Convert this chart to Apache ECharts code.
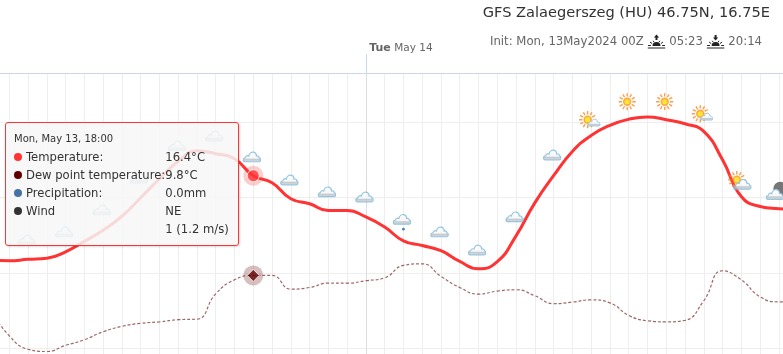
<!DOCTYPE html>
<html>
<head>
<meta charset="utf-8">
<style>
  html, body { margin: 0; padding: 0; background: #fff; width: 783px; height: 354px; overflow: hidden; }
  /* the axis starts and ends off screen, so the chart is wider and taller than the window */
  #chart { position: absolute; left: -10px; top: 0; width: 808px; height: 424px; }
  .tip { font-family: "DejaVu Sans", sans-serif; font-size: 11.6px; color: #333; line-height: 18px; }
  .tip .when { font-size: 10px; }
  .tip i { display: inline-block; width: 8px; height: 8px; border-radius: 50%; margin: 0 4px 0 0; }
  .tip td { padding: 0; white-space: nowrap; }
</style>
</head>
<body>
<div id="chart"></div>
<script src="https://cdn.jsdelivr.net/npm/echarts@6/dist/echarts.min.js"></script>
<script>
// hours counted from Mon May 13 00:00
const hours = [4,5,6,7,8,9,10,11,12,13,14,15,16,17,18,19,20,21,22,23,24,25,26,27,28,29,30,31,32,33,34,35,36,37,38,39,40,41,42,43,44,45,46,47];
const temperature = [10.87,10.80,10.90,10.97,11.40,12.09,12.83,13.76,14.99,16.25,17.41,18.11,17.91,17.58,16.45,15.98,14.92,14.59,14.14,14.14,13.71,13.04,12.13,11.82,11.47,10.76,10.27,10.74,12.46,14.65,16.45,18.06,19.12,19.80,20.20,20.35,20.17,19.90,19.39,17.51,15.07,14.41,14.26,14.20];
const dewPoint = [7.55,5.82,4.93,4.78,5.19,5.56,6.09,6.45,6.65,6.75,6.89,6.93,8.61,9.54,9.83,9.83,8.92,9.03,9.32,9.32,9.48,9.67,10.50,10.60,9.77,9.03,8.59,8.79,8.88,8.48,7.95,8.06,8.21,8.01,7.18,6.82,6.75,6.85,8.15,10.14,9.54,8.41,8.08,8.08];

// weather symbols, every two hours, placed at the height
const iconHours = [6,8,10,12,14,16,18,20,22,24,26,28,30,32,34,36,38,40,42,44,46];
const iconLevels = [12.20,12.73,14.19,16.31,18.44,19.10,17.71,16.18,15.39,15.05,13.33,12.73,11.53,13.73,17.84,20.17,21.36,21.36,20.56,16.12,15.45];
const iconKinds = ['cloud','cloud','cloud','cloud','cloud','cloud','cloud','cloud','cloud','cloud','rain','cloud','cloud','cloud','cloud','suncloud','sun','sun','suncloud','sunbigcloud','night'];

const currentHour = 18;
const dayHour = 24;
const yTicks = 5;

const tipTime = 'Mon, May 13, 18:00';
const tipNames = ['Temperature:', 'Dew point temperature:', 'Precipitation:', 'Wind', ''];
const tipValues = ['16.4°C', '9.8°C', '0.0mm', 'NE', '1 (1.2 m/s)'];
const tipColors = ['#ff3333', '#600000', '#4572a7', '#333333', ''];

function svgUri(w, h, body) {
  return 'data:image/svg+xml;utf8,' + encodeURIComponent(
    '<svg xmlns="http://www.w3.org/2000/svg" width="' + w + '" height="' + h + '" viewBox="0 0 ' + w + ' ' + h + '">' + body + '</svg>');
}

const cloudPath = 'M2.5 11.5 C0.3 11.5 0.2 7.6 3 7.5 C3.4 5.5 5.4 5 6.4 5.8 C7 3 9.2 1.5 11.2 1.9 C13.2 2.3 14.2 4 14.2 5.8 C15.6 5.4 16.8 6.2 17 7.6 C18.8 7.8 18.8 11.5 16.6 11.5 Z';
const cloud = '<defs><linearGradient id="c" x1="0" y1="0" x2="0" y2="1"><stop offset="0" stop-color="#ffffff"/><stop offset="0.62" stop-color="#f4f6f7"/><stop offset="0.75" stop-color="#b9bec0"/><stop offset="1" stop-color="#d0d5d8"/></linearGradient></defs>'
  + '<path d="' + cloudPath + '" fill="url(#c)" stroke="#7db8d8" stroke-width="1.2"/>';

function sunBody(cx, cy, r) {
  let rays = '';
  for (let a = 0; a < 360; a += 30) {
    rays += '<line x1="' + cx + '" y1="' + (cy - r - 1) + '" x2="' + cx + '" y2="' + (cy - r - 4.4) + '" transform="rotate(' + a + ' ' + cx + ' ' + cy + ')" stroke="#ff8420" stroke-width="1.4"/>';
  }
  return rays + '<circle cx="' + cx + '" cy="' + cy + '" r="' + r + '" fill="#ff9410"/><circle cx="' + cx + '" cy="' + cy + '" r="' + (r - 1.6) + '" fill="#ffe000"/>';
}

const iconImages = {
  cloud: 'image://' + svgUri(19, 13, cloud),
  rain: 'image://' + svgUri(19, 20, cloud + '<circle cx="11" cy="16.5" r="1.4" fill="#1f6aa0"/>'),
  sun: 'image://' + svgUri(18, 18, sunBody(9, 9, 4.2)),
  suncloud: 'image://' + svgUri(22, 18, sunBody(9, 9, 4.2) + '<g transform="translate(8.5 7) scale(0.72)">' + cloud + '</g>'),
  sunbigcloud: 'image://' + svgUri(24, 20, sunBody(9, 9, 4.2) + '<g transform="translate(5 7)">' + cloud + '</g>'),
  night: 'image://' + svgUri(24, 20, '<circle cx="15" cy="8" r="7" fill="#555"/><g transform="translate(0 7)">' + cloud + '</g>')
};
const iconSizes = { cloud: [19, 13], rain: [19, 20], sun: [18, 18], suncloud: [22, 18], sunbigcloud: [24, 20], night: [24, 20] };

function sunMark(up) {
  let arrow = up
    ? '<path d="M9 0.5 L11.6 3.6 L10 3.6 L10 6 L8 6 L8 3.6 L6.4 3.6 Z" fill="#222"/>'
    : '<path d="M9 6.5 L11.6 3.4 L10 3.4 L10 1 L8 1 L8 3.4 L6.4 3.4 Z" fill="#222"/>';
  return svgUri(18, 15, arrow
    + '<path d="M5 12 A4 4 0 0 1 13 12 Z" fill="#222"/>'
    + '<path d="M2.5 8 L4.6 9.6 M15.5 8 L13.4 9.6 M0.5 11.5 L3.4 11.5 M17.5 11.5 L14.6 11.5 M5.6 6.8 L6.6 8.2 M12.4 6.8 L11.4 8.2" stroke="#222" stroke-width="1"/>'
    + '<path d="M0 14 L18 14" stroke="#222" stroke-width="1.2"/>');
}

const chart = echarts.init(document.getElementById('chart'), null, { renderer: 'canvas' });
const fontName = '"DejaVu Sans", sans-serif';
const currentIndex = hours.indexOf(currentHour);

chart.setOption({
  animation: false,
  title: [
    { text: 'GFS Zalaegerszeg (HU) 46.75N, 16.75E', right: 23, top: 1,
      textStyle: { fontFamily: fontName, fontSize: 14.6, fontWeight: 'normal', color: '#333' } },
    { text: 'Init: Mon, 13May2024 00Z {rise|} 05:23 {set|} 20:14', right: 31, top: 29,
      textStyle: { fontFamily: fontName, fontSize: 11.7, fontWeight: 'normal', color: '#666',
        rich: {
          rise: { width: 18, height: 15, backgroundColor: { image: sunMark(true) } },
          set: { width: 18, height: 15, backgroundColor: { image: sunMark(false) } }
        } } }
  ],
  grid: { left: 0.5, right: 0.4, top: 73, bottom: 0.5 },
  xAxis: [
    {
      type: 'value', min: 4, max: 47, interval: 1, position: 'bottom',
      axisLine: { show: false }, axisTick: { show: false }, axisLabel: { show: false },
      splitLine: { show: true, lineStyle: { color: '#eeeeee' } }
    },
    {
      type: 'value', position: 'top', min: 4, max: 47, interval: 1,
      axisLine: { show: true, lineStyle: { color: '#ccd6eb' } },
      axisTick: { show: true, customValues: [dayHour], length: 19, lineStyle: { color: '#ccd6eb' } },
      axisLabel: {
        show: true, customValues: [dayHour], margin: 19, align: 'left', verticalAlign: 'bottom',
        formatter: () => ' {b|Tue} May 14',
        color: '#666', fontFamily: fontName, fontSize: 10.5,
        rich: { b: { fontWeight: 'bold', fontSize: 11, color: '#666', fontFamily: fontName } }
      },
      splitLine: { show: false }
    }
  ],
  yAxis: {
    type: 'value', min: 0, max: 23.27, interval: yTicks,
    axisLine: { show: false }, axisTick: { show: false }, axisLabel: { show: false },
    splitLine: { show: true, lineStyle: { color: '#eeeeee' } }
  },
  tooltip: {
    trigger: 'item', triggerOn: 'none', alwaysShowContent: true, transitionDuration: 0,
    position: [15, 122],
    backgroundColor: 'rgba(247,247,247,0.85)', borderColor: '#ff3333', borderWidth: 1,
    padding: [7, 9, 7, 8],
    extraCssText: 'border-radius:3px;box-shadow:1px 1px 2px rgba(0,0,0,0.15);',
    formatter: () => {
      let rows = tipNames.map((name, i) =>
        '<tr><td style="width:139px">' + (tipColors[i] ? '<i style="background:' + tipColors[i] + '"></i>' : '') + name + '</td><td>' + tipValues[i] + '</td></tr>').join('');
      return '<div class="tip"><div class="when">' + tipTime + '</div><table cellspacing="0" cellpadding="0">' + rows + '</table></div>';
    }
  },
  series: [
    {
      name: 'Temperature', type: 'line', smooth: 0.5, showSymbol: false, z: 3,
      lineStyle: { color: '#ff3333', width: 3 }, itemStyle: { color: '#ff3333' },
      data: hours.map((h, i) => [h, temperature[i]]),
      markLine: {
        silent: true, symbol: 'none', label: { show: false }, z: 1,
        lineStyle: { color: '#dddddd', width: 1, type: 'solid' },
        data: [{ xAxis: dayHour }]
      }
    },
    {
      name: 'Dew point temperature', type: 'line', smooth: 0.5, showSymbol: false, z: 3,
      lineStyle: { color: '#600000', width: 1.2, type: [3, 2], opacity: 0.6 },
      data: hours.map((h, i) => [h, dewPoint[i]])
    },
    {
      name: 'Weather', type: 'scatter', z: 4, silent: true, symbolOffset: [-1.5, 0],
      data: iconHours.map((h, i) => ({
        value: [h, iconLevels[i]],
        symbol: iconImages[iconKinds[i]],
        symbolSize: iconSizes[iconKinds[i]]
      }))
    },
    {
      name: 'Temperature halo', type: 'scatter', z: 5, silent: true, symbol: 'circle', symbolSize: 20,
      itemStyle: { color: '#ff3333', opacity: 0.25 },
      data: [[currentHour, temperature[currentIndex]]]
    },
    {
      name: 'Temperature point', type: 'scatter', z: 6, symbol: 'circle', symbolSize: 12,
      itemStyle: { color: '#ff3333', borderColor: '#fff', borderWidth: 1 },
      data: [[currentHour, temperature[currentIndex]]]
    },
    {
      name: 'Dew halo', type: 'scatter', z: 5, silent: true, symbol: 'circle', symbolSize: 20,
      itemStyle: { color: '#600000', opacity: 0.25 },
      data: [[currentHour, dewPoint[currentIndex]]]
    },
    {
      name: 'Dew point', type: 'scatter', z: 6, silent: true, symbol: 'diamond', symbolSize: 12,
      itemStyle: { color: '#600000', borderColor: '#fff', borderWidth: 1 },
      data: [[currentHour, dewPoint[currentIndex]]]
    }
  ]
});

// the tooltip needs a drawn symbol to attach to, so it goes on the temperature point
chart.dispatchAction({ type: 'showTip', seriesIndex: 4, dataIndex: 0 });
</script>
</body>
</html>
